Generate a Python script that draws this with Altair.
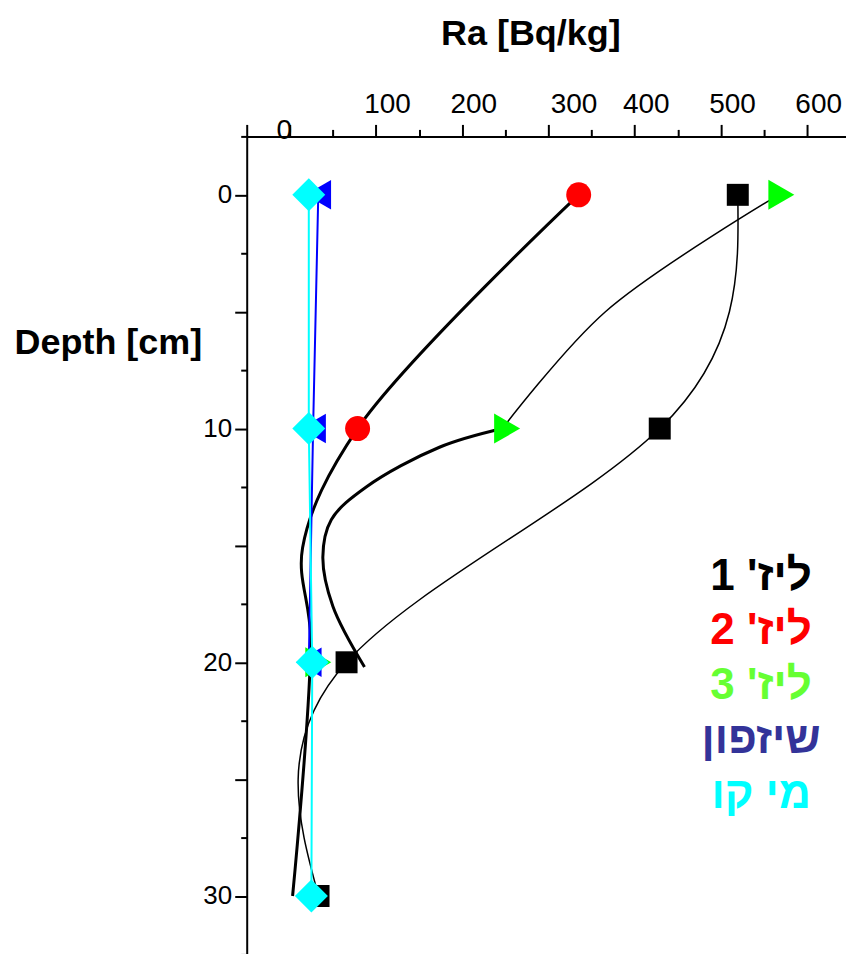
import altair as alt
import pandas as pd

# ---------------- data ----------------
depths = [0, 10, 20, 30]
series_names = ["ליז' 1", "ליז' 2", "ליז' 3", "שיזפון", "מי קו"]

liz1_ra = [519.5, 429, 65.8, 33.3]
liz2_ra = [335, 78.6]
liz3_ra = [570, 252, 33]
shizafon_ra = [33, 27, 22]
miko_ra = [22, 22, 26, 25]

# smoothed curves (vertices)
liz2_curve_depth = [0, 10, 15.1, 19.0, 30]
liz2_curve_ra = [335, 78.6, 14.8, 24.1, 3.2]
liz3_upper_depth = [0, 5, 10]
liz3_upper_ra = [567, 366, 246.5]
liz3_lower_depth = [10, 10.8, 12.5, 13.9, 15.5, 17.6, 20.2]
liz3_lower_ra = [246.5, 173.5, 88.6, 48.1, 38.3, 49.9, 86.6]

x_ticks = list(range(-50, 650, 50))
y_ticks = [i * 2.5 for i in range(-1, 14)]

# ---------------- styles ----------------
marker_shapes = ["square", "circle", "triangle-right", "triangle-left", "diamond"]
marker_fills = ["#000000", "#ff0000", "#00ff00", "#0000ff", "#00ffff"]
marker_sizes = [484, 625, 900, 870, 1089]
text_colors = ["#000000", "#ff0000", "#66ff33", "#333399", "#00ffff"]
FONT = "Liberation Sans, Arial, DejaVu Sans, sans-serif"

# ---------------- tables ----------------
rows = []
for name, vals in zip(series_names, [liz1_ra, liz2_ra, liz3_ra, shizafon_ra, miko_ra]):
    for d, v in zip(depths, vals):
        rows.append({"series": name, "depth": d, "ra": v})
markers_df = pd.DataFrame(rows)

lrows = []
def add_path(pid, ds, vs):
    for d, v in zip(ds, vs):
        lrows.append({"path": pid, "depth": d, "ra": v})

add_path("liz1", depths, liz1_ra)
add_path("liz2", liz2_curve_depth, liz2_curve_ra)
add_path("liz3_upper", liz3_upper_depth, liz3_upper_ra)
add_path("liz3_lower", liz3_lower_depth, liz3_lower_ra)
add_path("shizafon", depths[:3], shizafon_ra)
add_path("miko", depths, miko_ra)
lines_df = pd.DataFrame(lrows)

legend_df = pd.DataFrame({
    "label": series_names,
    "idx": list(range(len(series_names))),
})

# ---------------- encodings ----------------
x_axis = alt.Axis(
    orient="top",
    values=x_ticks,
    labelExpr="(datum.value >= 0 && datum.value % 100 == 0) ? datum.label : ''",
    tickSize={"condition": {"test": "datum.value % 100 == 0 || datum.value == -50", "value": 12}, "value": 7},
    labelOffset={"condition": [{"test": "datum.value == 0", "value": -6},
                               {"test": "datum.value == 300", "value": 25}], "value": 11},
    labelPadding={"condition": {"test": "datum.value == 0", "value": -14}, "value": 12},
    labelBaseline="alphabetic",
    labelFont=FONT, labelFontSize=28, labelColor="black",
    labelFlush=False, labelOverlap=False,
    tickColor="black", tickWidth=2,
    domainColor="black", domainWidth=2,
    grid=False,
    title="Ra [Bq/kg]",
    titleFont=FONT, titleFontSize=36, titleFontWeight="bold", titleColor="black",
    titleX=284, titleY=-92, titleAlign="center", titleBaseline="alphabetic", titleAngle=0,
)
y_axis = alt.Axis(
    orient="left",
    values=y_ticks,
    labelExpr="(datum.value >= 0 && datum.value % 10 == 0) ? datum.label : ''",
    tickSize={"condition": {"test": "datum.value % 5 == 0", "value": 12}, "value": 6},
    labelPadding=3,
    labelBaseline="middle",
    labelFont=FONT, labelFontSize=26, labelColor="black",
    labelFlush=False, labelOverlap=False,
    tickColor="black", tickWidth=2,
    domainColor="black", domainWidth=2,
    grid=False,
    title="Depth [cm]",
    titleFont=FONT, titleFontSize=36, titleFontWeight="bold", titleColor="black",
    titleAngle=0, titleX=-139, titleY=217, titleAlign="center", titleBaseline="alphabetic",
)

x_enc = alt.X("ra:Q", scale=alt.Scale(domain=[-50, 645], nice=False, zero=False), axis=x_axis)
y_enc = alt.Y("depth:Q", scale=alt.Scale(domain=[-2.5, 32.5], nice=False, zero=False, reverse=True), axis=y_axis)
order_enc = alt.Order("depth:Q")

base = alt.Chart(lines_df)

line_liz1 = base.transform_filter(alt.datum.path == "liz1").mark_line(
    interpolate="natural", color="black", strokeWidth=1.5
).encode(x=x_enc, y=y_enc, order=order_enc)

line_thick = base.transform_filter(
    alt.FieldOneOfPredicate(field="path", oneOf=["liz2", "liz3_lower"])
).mark_line(interpolate="catmull-rom", color="black", strokeWidth=3).encode(
    x=x_enc, y=y_enc, order=order_enc, detail="path:N"
)

line_thin = base.transform_filter(alt.datum.path == "liz3_upper").mark_line(
    interpolate="catmull-rom", color="black", strokeWidth=1.5
).encode(x=x_enc, y=y_enc, order=order_enc)

line_blue = base.transform_filter(alt.datum.path == "shizafon").mark_line(
    color="#0000ff", strokeWidth=2
).encode(x=x_enc, y=y_enc, order=order_enc)

line_cyan = base.transform_filter(alt.datum.path == "miko").mark_line(
    color="#00ffff", strokeWidth=2
).encode(x=x_enc, y=y_enc, order=order_enc)

point_layers = []
for name, shp, fill, size in zip(series_names, marker_shapes, marker_fills, marker_sizes):
    point_layers.append(
        alt.Chart(markers_df).transform_filter(alt.datum.series == name).mark_point(
            filled=True, opacity=1, strokeWidth=0, shape=shp, fill=fill, size=size
        ).encode(x=x_enc, y=y_enc)
    )

main = alt.layer(line_liz1, line_thick, line_thin, line_blue, line_cyan, *point_layers)

legend_text = alt.Chart(legend_df).mark_text(
    font=FONT, fontWeight="bold", fontSize=44, align="center", baseline="alphabetic"
).encode(
    x=alt.value(515),
    y=alt.Y("idx:Q", scale=alt.Scale(domain=[0, 4], range=[454, 672]), axis=None),
    text="label:N",
    color=alt.Color("label:N", scale=alt.Scale(domain=series_names, range=text_colors), legend=None),
)

chart = alt.layer(main, legend_text).resolve_scale(y="independent", color="independent").properties(
    width=600, height=819,
    padding={"left": 247, "top": 136, "right": 0, "bottom": 0},
    autosize=alt.AutoSizeParams(type="none"),
    background="white",
).configure_view(stroke=None)

chart.save("out.html", embed_options={"renderer": "svg", "actions": False})
